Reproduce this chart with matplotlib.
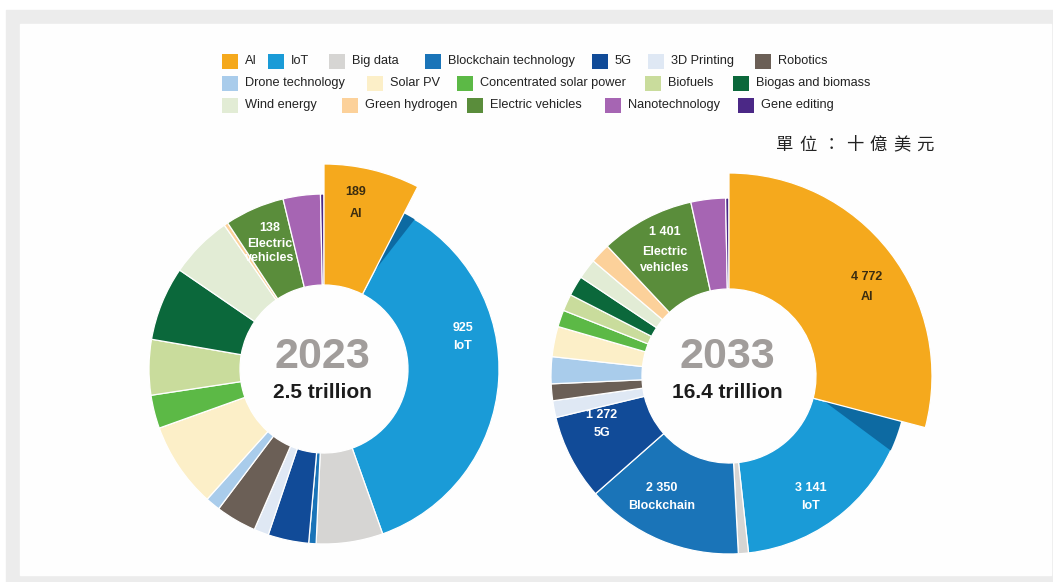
import numpy as np
import matplotlib.pyplot as plt
from matplotlib.patches import Rectangle, Polygon

# market size by technology, $ billion
categories = ["AI", "IoT", "Big data", "Blockchain technology", "5G", "3D Printing",
              "Robotics", "Drone technology", "Solar PV", "Concentrated solar power",
              "Biofuels", "Biogas and biomass", "Wind energy", "Green hydrogen",
              "Electric vehicles", "Nanotechnology", "Gene editing"]
colors = ["#f5a91d", "#1a9bd7", "#d6d5d3", "#1a74b8", "#114b98", "#dfe8f4",
          "#6b5f56", "#a9cceb", "#fcefc8", "#5cb946", "#c9dc9c", "#0b683b",
          "#e2ecd5", "#fcd19a", "#5a8d3b", "#a665b3", "#4b2886"]
market_2023 = [189, 925, 154, 17, 94, 34, 94, 34, 197, 77, 128, 171, 145, 9, 138, 86, 8]
market_2033 = [4772, 3141, 150, 2350, 1272, 250, 250, 400, 450, 250, 250, 300, 300, 300,
               1401, 514, 50]
years = ["2023", "2033"]
totals = ["2.5 trillion", "16.4 trillion"]
unit = "單位：十億美元"

# legend rows: (category index, swatch x)
legend_rows = [
    [(0, 222), (1, 268), (2, 329), (3, 425), (4, 592), (5, 648), (6, 755)],
    [(7, 222), (8, 367), (9, 457), (10, 645), (11, 733)],
    [(12, 222), (13, 342), (14, 467), (15, 605), (16, 738)],
]
legend_y = [61, 83, 105]

W, H = 1053, 582
fig = plt.figure(figsize=(W / 100, H / 100), dpi=100)
fig.patch.set_facecolor("white")
ax = fig.add_axes([0, 0, 1, 1])


def Y(py):
    return H - py


def fmt(v):
    return f"{v:,}".replace(",", " ")


# grey frame + white panel
ax.add_patch(Rectangle((6, 0), W - 6, H - 10, color="#ececec", zorder=0))
ax.add_patch(Rectangle((20, Y(575)), 1031, 551, color="#fefefe", zorder=0))


def donut(values, cx, cy, r_out, r_in, r_ai, sh_deg, sh_r):
    wedges, _ = ax.pie(values, colors=colors, startangle=90, counterclock=False,
                       radius=r_out, center=(cx, Y(cy)),
                       wedgeprops=dict(width=r_out - r_in, edgecolor="white", linewidth=0.9))
    ai = wedges[0]
    ai.set_radius(r_ai)
    ai.set_width(r_ai - r_in)
    ai.set_zorder(3)
    # darker strip on IoT next to the raised AI slice
    t0 = ai.theta1
    arc = np.deg2rad(np.linspace(t0, t0 - sh_deg, 20))
    pts = [(cx + sh_r * np.cos(np.deg2rad(t0)), Y(cy) + sh_r * np.sin(np.deg2rad(t0)))]
    pts += [(cx + r_out * np.cos(a), Y(cy) + r_out * np.sin(a)) for a in arc]
    ax.add_patch(Polygon(pts, closed=True, color="#0d6aa2", lw=0, zorder=2))
    return wedges


w23 = donut(market_2023, 324, 369, 175, 84, 205, 4, 110)
w33 = donut(market_2033, 729, 376, 178, 87, 203, 10, 98)

lab = dict(family=["Liberation Sans", "DejaVu Sans"], fontweight="bold", fontsize=9,
           ha="center", va="center", zorder=5)
dark, light = "#3a2c10", "white"


def label(lines, x, ys, color):
    for s, y in zip(lines, ys):
        ax.text(x, Y(y), s, color=color, **lab)


label([fmt(market_2023[0]), "AI"], 356, (192, 214), dark)
label([fmt(market_2023[1]), "IoT"], 463, (328, 346), light)
# EV label sits in the middle of its slice
ev = w23[14]
mid = np.deg2rad((ev.theta1 + ev.theta2) / 2)
ex, ey = 324 + 136 * np.cos(mid), 369 - 136 * np.sin(mid)
label([fmt(market_2023[14]), "Electric", "vehicles"], ex, (ey - 16, ey, ey + 14), light)

label([fmt(market_2033[0]), "AI"], 867, (277, 297), dark)
label([fmt(market_2033[1]), "IoT"], 811, (488, 506), light)
label([fmt(market_2033[3]), "Blockchain"], 662, (488, 506), light)
label([fmt(market_2033[4]), "5G"], 602, (415, 433), light)
label([fmt(market_2033[14]), "Electric", "vehicles"], 665, (232, 252, 268), light)

# centre captions
for x, yr, tot in zip([322, 727], years, totals):
    ax.text(x, Y(368), yr, family=["Liberation Sans", "DejaVu Sans"], fontweight="bold",
            fontsize=31, color="#a19d9b", ha="center", va="baseline", zorder=5)
    ax.text(x, Y(398), tot, family=["Liberation Sans", "DejaVu Sans"], fontweight="bold",
            fontsize=15, color="#1c1c1c", ha="center", va="baseline", zorder=5)

# legend
for row, y in zip(legend_rows, legend_y):
    for idx, sx in row:
        ax.add_patch(Rectangle((sx, Y(y) - 7.5), 16, 15, color=colors[idx], lw=0, zorder=4))
        ax.text(sx + 23, Y(y), categories[idx], family=["Liberation Sans", "DejaVu Sans"],
                fontsize=9.2, color="#222222", ha="left", va="center", zorder=5)

# unit note
for i, ch in enumerate(unit):
    ax.text(785 + i * 23.3, Y(145), ch, family=["Noto Sans CJK TC", "DejaVu Sans"],
            fontsize=12.5, fontweight="medium", color="#222222", ha="center", va="center",
            zorder=5)

ax.set_xlim(0, W)
ax.set_ylim(0, H)
ax.axis("off")
fig.savefig("out.png", dpi=100, facecolor="white")
